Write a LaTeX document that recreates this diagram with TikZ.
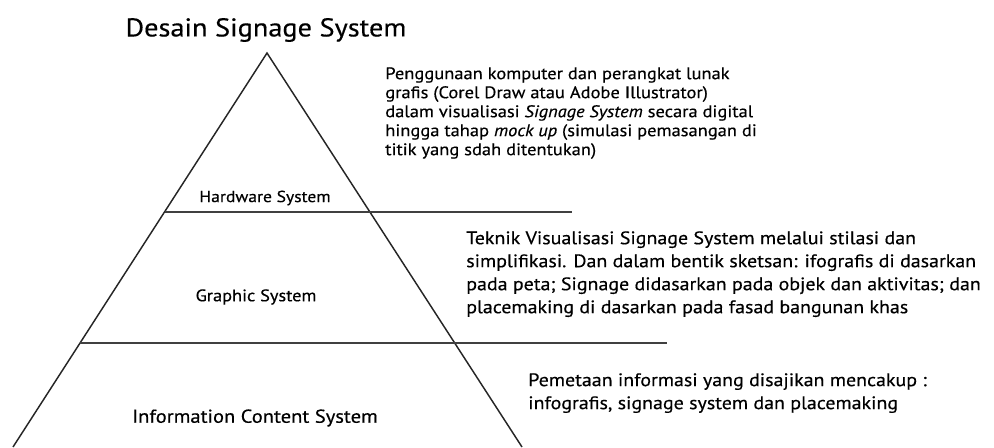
\documentclass[tikz,border=0pt]{standalone}
\usepackage{fontspec}
\setmainfont[FakeStretch=1.1, FakeBold=0.4]{PT Sans}

\begin{document}
\begin{tikzpicture}[
    x=0.75pt, y=-0.75pt,
    side/.style={black!85, line width=1.1pt}, % pyramid sides
    level/.style={black!75, line width=1.6pt}, % level lines
    layer/.style={inner sep=0pt}, % labels inside
    note/.style={inner sep=0pt, anchor=north west, align=left} % description texts
]

    % Fix the page to the picture size
    \useasboundingbox (0,0) rectangle (994,447);

    % Define Coordinates of the pyramid
    \coordinate (apex) at (267, 53);
    \coordinate (baseL) at (13, 447);
    \coordinate (baseR) at (522, 447);
    \coordinate (hwL) at (165, 212);
    \coordinate (hwR) at (572, 212);
    \coordinate (gsL) at (80, 343);
    \coordinate (gsR) at (667, 343);

    % Draw the pyramid sides
    \draw[side] (baseL) -- (apex) -- (baseR);

    % Draw the level lines
    \draw[level] (hwL) -- (hwR);
    \draw[level] (gsL) -- (gsR);

    % Title and level names
    \node[inner sep=0pt, font=\fontsize{19.3}{21}\selectfont] (title) at (266, 30) {Desain Signage System};
    \node[layer, font=\fontsize{12}{14}\selectfont] (hardware) at (265, 198) {Hardware System};
    \node[layer, font=\fontsize{12.5}{14}\selectfont] (graphic) at (256, 297) {Graphic System};
    \node[layer, font=\fontsize{14}{16}\selectfont] (content) at (255, 418) {Information Content System};

    % Descriptions beside each level
    \node[note, font=\fontsize{12.6}{14.25}\selectfont] (hwtext) at (385, 67) {Penggunaan komputer dan perangkat lunak\\
        grafis (Corel Draw atau Adobe Illustrator)\\
        dalam visualisasi \textit{Signage System} secara digital\\
        hingga tahap \textit{mock up} (simulasi pemasangan di\\
        titik yang sdah ditentukan)};
    \node[note, font=\fontsize{13.6}{17.25}\selectfont] (gstext) at (466, 231) {Teknik Visualisasi Signage System melalui stilasi dan\\
        simplifikasi. Dan dalam bentik sketsan: ifografis di dasarkan\\
        pada peta; Signage didasarkan pada objek dan aktivitas; dan\\
        placemaking di dasarkan pada fasad bangunan khas};
    \node[note, font=\fontsize{13.6}{17.25}\selectfont] (ictext) at (528, 373) {Pemetaan informasi yang disajikan mencakup :\\
        infografis, signage system dan placemaking};

\end{tikzpicture}
\end{document}
